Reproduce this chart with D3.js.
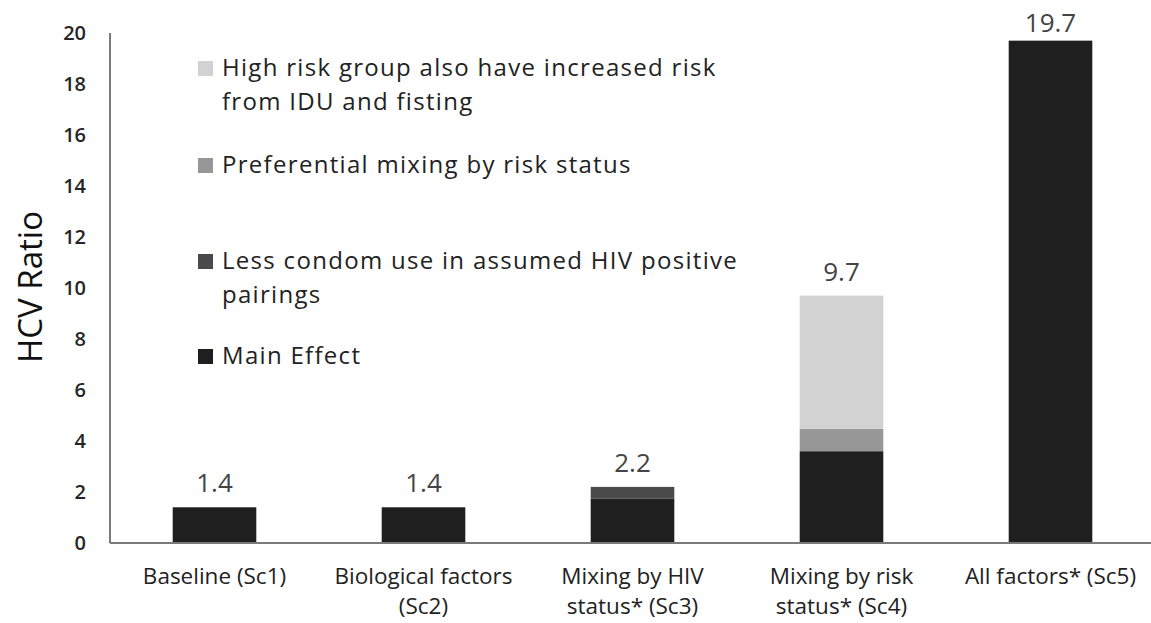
<!DOCTYPE html>
<html>
<head>
<meta charset="utf-8">
<script src="https://d3js.org/d3.v7.min.js"></script>
<style>
  body { margin: 0; background: #fff; font-family: "Open Sans", Lato, sans-serif; }
  svg { display: block; }
</style>
</head>
<body>
<svg width="1151" height="623"></svg>
<script>
// data
const scenarios = [
  ["Baseline (Sc1)"],
  ["Biological factors", "(Sc2)"],
  ["Mixing by HIV", "status* (Sc3)"],
  ["Mixing by risk", "status* (Sc4)"],
  ["All factors* (Sc5)"]
];
const mainEffect = [1.4, 1.4, 1.75, 3.6, 19.7];
const condomUse  = [0, 0, 0.45, 0, 0];
const prefMixing = [0, 0, 0, 0.87, 0];
const highRisk   = [0, 0, 0, 5.23, 0];
const totals     = ["1.4", "1.4", "2.2", "9.7", "19.7"];
const yTicks = [0, 2, 4, 6, 8, 10, 12, 14, 16, 18, 20];

const seriesKeys = ["main", "condom", "pref", "high"];
const seriesColor = { main: "#1f1f1f", condom: "#4b4b4b", pref: "#979797", high: "#d2d2d2" };
const legendItems = [
  { key: "high", lines: ["High risk group also have increased risk", "from IDU and fisting"], y: 68 },
  { key: "pref", lines: ["Preferential mixing by risk status"], y: 165 },
  { key: "condom", lines: ["Less condom use in assumed HIV positive", "pairings"], y: 261 },
  { key: "main", lines: ["Main Effect"], y: 356 }
];

const rows = scenarios.map((s, i) => ({
  id: i, main: mainEffect[i], condom: condomUse[i], pref: prefMixing[i], high: highRisk[i]
}));

const svg = d3.select("svg");
const x = d3.scaleBand().domain(rows.map(d => d.id)).range([110, 1155]).paddingInner(0.6).paddingOuter(0.3);
const y = d3.scaleLinear().domain([0, 20]).range([543, 33]);

const stack = d3.stack().keys(seriesKeys)(rows);

svg.append("g").selectAll("g").data(stack).join("g")
  .attr("fill", d => seriesColor[d.key])
  .selectAll("rect").data(d => d).join("rect")
  .attr("x", d => x(d.data.id))
  .attr("width", x.bandwidth())
  .attr("y", d => y(d[1]))
  .attr("height", d => y(d[0]) - y(d[1]));

// axes
svg.append("line").attr("x1", 110).attr("x2", 110).attr("y1", y(20)).attr("y2", y(0))
  .attr("stroke", "#7a7a7a").attr("stroke-width", 2);
svg.append("line").attr("x1", 110).attr("x2", 1151).attr("y1", y(0)).attr("y2", y(0))
  .attr("stroke", "#7a7a7a").attr("stroke-width", 2);

svg.append("g").selectAll("text").data(yTicks).join("text")
  .attr("x", 86).attr("y", d => y(d)).attr("dy", "0.35em")
  .attr("text-anchor", "end").attr("font-size", 20).attr("font-weight", 600).attr("fill", "#262626")
  .text(d => d);

svg.append("text").attr("transform", "translate(42,287) rotate(-90)")
  .attr("text-anchor", "middle").attr("font-size", 33).attr("fill", "#111")
  .text("HCV Ratio");

// category labels
const cat = svg.append("g").selectAll("text").data(scenarios).join("text")
  .attr("x", (d, i) => x(i) + x.bandwidth() / 2)
  .attr("y", 584).attr("text-anchor", "middle")
  .attr("font-size", 22.5).attr("fill", "#222");
cat.selectAll("tspan").data(d => d).join("tspan")
  .attr("x", function () { return d3.select(this.parentNode).attr("x"); })
  .attr("dy", (d, i) => i === 0 ? 0 : 30)
  .text(d => d);

// value labels
svg.append("g").selectAll("text").data(rows).join("text")
  .attr("x", d => x(d.id) + x.bandwidth() / 2)
  .attr("y", d => Math.max(y(d.main + d.condom + d.pref + d.high) - 15, 32))
  .attr("text-anchor", "middle").attr("font-size", 26).attr("fill", "#444")
  .text((d, i) => totals[i]);

// legend
const lg = svg.append("g").selectAll("g").data(legendItems).join("g");
lg.append("rect").attr("x", 198).attr("y", d => d.y - 7).attr("width", 15).attr("height", 15)
  .attr("fill", d => seriesColor[d.key]);
const lt = lg.append("text").attr("x", 222).attr("y", d => d.y)
  .attr("font-size", 24).attr("letter-spacing", 1.3).attr("fill", "#222");
lt.selectAll("tspan").data(d => d.lines).join("tspan")
  .attr("x", 222).attr("dy", (d, i) => i === 0 ? "0.35em" : 33.5)
  .text(d => d);
</script>
</body>
</html>
